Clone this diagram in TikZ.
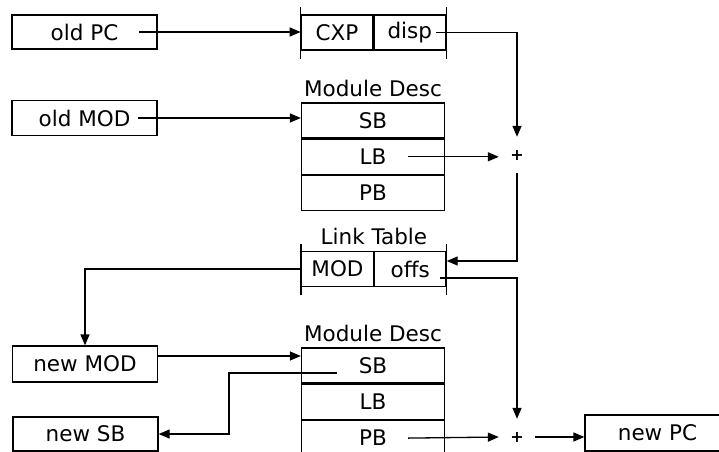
\documentclass[tikz,border=0pt]{standalone}
\usepackage{fontspec}
\setmainfont{DejaVu Sans}
\usetikzlibrary{arrows.meta,positioning}

\begin{document}
\begin{tikzpicture}[
    x=1pt, y=-1pt,
    font=\fontsize{21.5}{25}\selectfont,
    node distance=0pt,
    box/.style={rectangle, draw=black, line width=1.3pt, minimum width=145pt, minimum height=35pt, inner sep=0pt},
    cell/.style={rectangle, draw=black, line width=1.3pt, minimum width=71.5pt, minimum height=35pt, inner sep=0pt},
    row/.style={rectangle, draw=black, line width=1.3pt, minimum width=143pt, minimum height=35pt, inner sep=0pt},
    title/.style={inner sep=0pt},
    plus/.style={rectangle, minimum size=36pt, inner sep=0pt, font=\fontsize{16}{16}\selectfont\bfseries},
    arr/.style={-{Triangle[length=11pt,width=9pt]}, line width=1.3pt},
    ln/.style={line width=1.3pt}
]
\useasboundingbox (0,0) rectangle (719,451);
\clip (0,0) rectangle (719,451);

\node[box, minimum height=34pt] (oldpc) at (84.5,32) {old PC};
\node[box] (oldmod) at (84.5,118) {old MOD};
\node[box, minimum height=36pt] (newmod) at (85,364) {new MOD};
\node[box, minimum height=34pt] (newsb) at (85.5,434) {new SB};
\node[box, minimum height=36pt] (newpc) at (657.5,433) {new PC};

\node[cell] (cxp) at (337,32.5) {CXP};
\node[cell, right=of cxp] (disp) {disp};
\draw[ln] ([yshift=7pt]cxp.north west) -- ([yshift=-8pt]cxp.south west);
\draw[ln] ([yshift=7pt]disp.north east) -- ([yshift=-8pt]disp.south east);

\node[row] (sb1) at (373,120.5) {SB};
\node[row, below=of sb1] (lb1) {LB};
\node[row, below=of lb1] (pb1) {PB};
\node[title, above=5pt of sb1] (desc1) {Module Desc};

\node[cell] (mod) at (337.5,269) {MOD};
\node[cell, right=of mod] (offs) {offs};
\node[title, above=6pt of mod.north east] (link) {Link Table};
\draw[ln] ([yshift=7pt]mod.north west) -- ([yshift=-8pt]mod.south west);
\draw[ln] ([yshift=7pt]offs.north east) -- ([yshift=-8pt]offs.south east);

\node[row] (sb2) at (373,365.5) {SB};
\node[row, below=of sb2] (lb2) {LB};
\node[row, below=of lb2] (pb2) {PB};
\node[title, above=5pt of sb2] (desc2) {Module Desc};

\node[plus] (plus1) at (517,155) {+};
\node[plus] (plus2) at (517,437) {+};
\coordinate (bend) at (229,373);

\draw[arr] ([xshift=-19pt]oldpc.east) -- (oldpc.east -| cxp.west);
\draw[arr] ([xshift=-20pt]oldmod.east) -- (oldmod.east -| sb1.west);
\draw[arr] ([xshift=-10pt]disp.east) -| (plus1.north);
\draw[arr] ([xshift=-37pt]lb1.east) -- (lb1.east -| plus1.west);
\draw[arr] (plus1.south) |- ([yshift=8pt]offs.east);
\draw[arr] ([xshift=-7pt,yshift=-9pt]offs.east) -| (plus2.north);
\draw[arr] (mod.west) -| (newmod.north);
\draw[arr] ([yshift=8pt]newmod.east) -- ([yshift=8pt]newmod.east -| sb2.west);
\draw[arr] ([xshift=-36pt,yshift=-7.5pt]sb2.center) -- (bend) |- (newsb.east);
\draw[arr] ([xshift=35pt]pb2.center) -- (plus2.west);
\draw[arr] (plus2.east) -- (plus2.east -| newpc.west);
\end{tikzpicture}
\end{document}
